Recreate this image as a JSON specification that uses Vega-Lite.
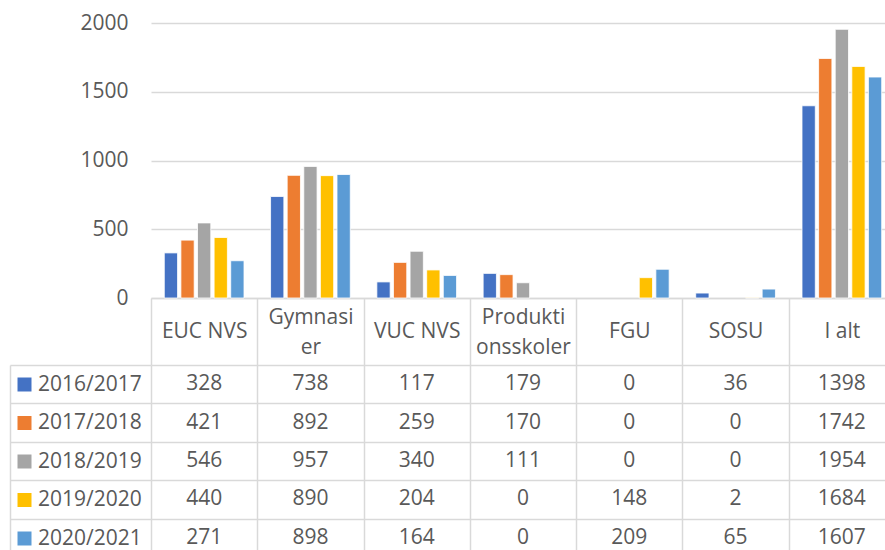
{
  "$schema": "https://vega.github.io/schema/vega-lite/v6.json",
  "padding": {"left": 9, "top": 12, "right": 0, "bottom": 0},
  "background": "white",
  "spacing": 67,
  "bounds": "flush",
  "config": {"view": {"stroke": null}, "font": "Open Sans"},
  "data": {"values": [
    {"category": "EUC NVS", "series": "2016/2017", "value": 328},
    {"category": "Gymnasier", "series": "2016/2017", "value": 738},
    {"category": "VUC NVS", "series": "2016/2017", "value": 117},
    {"category": "Produktionsskoler", "series": "2016/2017", "value": 179},
    {"category": "FGU", "series": "2016/2017", "value": 0},
    {"category": "SOSU", "series": "2016/2017", "value": 36},
    {"category": "I alt", "series": "2016/2017", "value": 1398},
    {"category": "EUC NVS", "series": "2017/2018", "value": 421},
    {"category": "Gymnasier", "series": "2017/2018", "value": 892},
    {"category": "VUC NVS", "series": "2017/2018", "value": 259},
    {"category": "Produktionsskoler", "series": "2017/2018", "value": 170},
    {"category": "FGU", "series": "2017/2018", "value": 0},
    {"category": "SOSU", "series": "2017/2018", "value": 0},
    {"category": "I alt", "series": "2017/2018", "value": 1742},
    {"category": "EUC NVS", "series": "2018/2019", "value": 546},
    {"category": "Gymnasier", "series": "2018/2019", "value": 957},
    {"category": "VUC NVS", "series": "2018/2019", "value": 340},
    {"category": "Produktionsskoler", "series": "2018/2019", "value": 111},
    {"category": "FGU", "series": "2018/2019", "value": 0},
    {"category": "SOSU", "series": "2018/2019", "value": 0},
    {"category": "I alt", "series": "2018/2019", "value": 1954},
    {"category": "EUC NVS", "series": "2019/2020", "value": 440},
    {"category": "Gymnasier", "series": "2019/2020", "value": 890},
    {"category": "VUC NVS", "series": "2019/2020", "value": 204},
    {"category": "Produktionsskoler", "series": "2019/2020", "value": 0},
    {"category": "FGU", "series": "2019/2020", "value": 148},
    {"category": "SOSU", "series": "2019/2020", "value": 2},
    {"category": "I alt", "series": "2019/2020", "value": 1684},
    {"category": "EUC NVS", "series": "2020/2021", "value": 271},
    {"category": "Gymnasier", "series": "2020/2021", "value": 898},
    {"category": "VUC NVS", "series": "2020/2021", "value": 164},
    {"category": "Produktionsskoler", "series": "2020/2021", "value": 0},
    {"category": "FGU", "series": "2020/2021", "value": 209},
    {"category": "SOSU", "series": "2020/2021", "value": 65},
    {"category": "I alt", "series": "2020/2021", "value": 1607}
  ]},
  "vconcat": [
    {
      "width": 744,
      "height": 275,
      "mark": {"type": "bar", "strokeWidth": 0.8},
      "encoding": {
        "x": {
          "field": "category", "type": "nominal",
          "sort": ["EUC NVS", "Gymnasier", "VUC NVS", "Produktionsskoler", "FGU", "SOSU", "I alt"],
          "scale": {"paddingInner": 0, "paddingOuter": 0},
          "axis": {
            "title": null, "labelAngle": 0, "labelFontSize": 21, "labelColor": "#595959",
            "labelFont": "Open Sans", "labelBaseline": "middle",
            "labelPadding": {"condition": {"test": "datum.value == 'Gymnasier' || datum.value == 'Produktionsskoler'", "value": -48}, "value": -34},
            "labelLineHeight": 30,
            "tickBand": "extent", "tickSize": 67, "tickColor": "#d9d9d9", "tickWidth": 1.5,
            "domainColor": "#d9d9d9", "domainWidth": 1.5,
            "labelExpr": "datum.label == 'Gymnasier' ? ['Gymnasi','er'] : datum.label == 'Produktionsskoler' ? ['Produkti','onsskoler'] : datum.label"
          }
        },
        "xOffset": {"field": "series", "type": "nominal", "scale": {"paddingInner": 0.2, "paddingOuter": 0.8}},
        "y": {
          "field": "value", "type": "quantitative",
          "scale": {"domain": [0, 2000], "nice": false},
          "axis": {
            "title": null, "values": [0, 500, 1000, 1500, 2000], "format": "d", "labelFontSize": 21, "labelColor": "#595959",
            "labelFont": "Open Sans", "labelPadding": 23, "ticks": false, "domain": false,
            "gridColor": "#d9d9d9", "gridWidth": 1.5
          }
        },
        "stroke": {"condition": {"test": "datum.value == 0", "value": null}, "value": "white"},
        "color": {
          "field": "series", "type": "nominal",
          "scale": {
            "domain": ["2016/2017", "2017/2018", "2018/2019", "2019/2020", "2020/2021"],
            "range": ["#4472C4", "#ED7D31", "#A5A5A5", "#FFC000", "#5B9BD5"]
          },
          "legend": {
            "orient": "none", "legendX": -137, "legendY": 351, "title": null,
            "symbolType": "square", "symbolSize": 196, "symbolStrokeWidth": 0,
            "labelFontSize": 21, "labelColor": "#595959", "labelFont": "Open Sans",
            "rowPadding": 16.5, "labelOffset": 3, "direction": "vertical"
          }
        }
      }
    },
    {
      "width": 744,
      "height": 192,
      "mark": {"type": "text", "fontSize": 21, "color": "#595959", "font": "Open Sans"},
      "encoding": {
        "x": {
          "field": "category", "type": "nominal",
          "sort": ["EUC NVS", "Gymnasier", "VUC NVS", "Produktionsskoler", "FGU", "SOSU", "I alt"],
          "scale": {"paddingInner": 0, "paddingOuter": 0},
          "axis": {
            "title": null, "labels": false, "ticks": false, "domain": false, "grid": true,
            "tickBand": "extent", "gridColor": "#d9d9d9", "gridWidth": 1.5
          }
        },
        "y": {
          "field": "series", "type": "nominal",
          "scale": {"paddingInner": 0, "paddingOuter": 0},
          "axis": {
            "title": null, "labels": false, "offset": 141, "tickSize": -141, "ticks": true,
            "tickBand": "extent", "tickColor": "#d9d9d9", "tickWidth": 1.5,
            "domain": true, "domainColor": "#d9d9d9", "domainWidth": 1.5,
            "grid": true, "gridColor": "#d9d9d9", "gridWidth": 1.5
          }
        },
        "text": {"field": "value", "type": "quantitative"}
      }
    }
  ]
}
